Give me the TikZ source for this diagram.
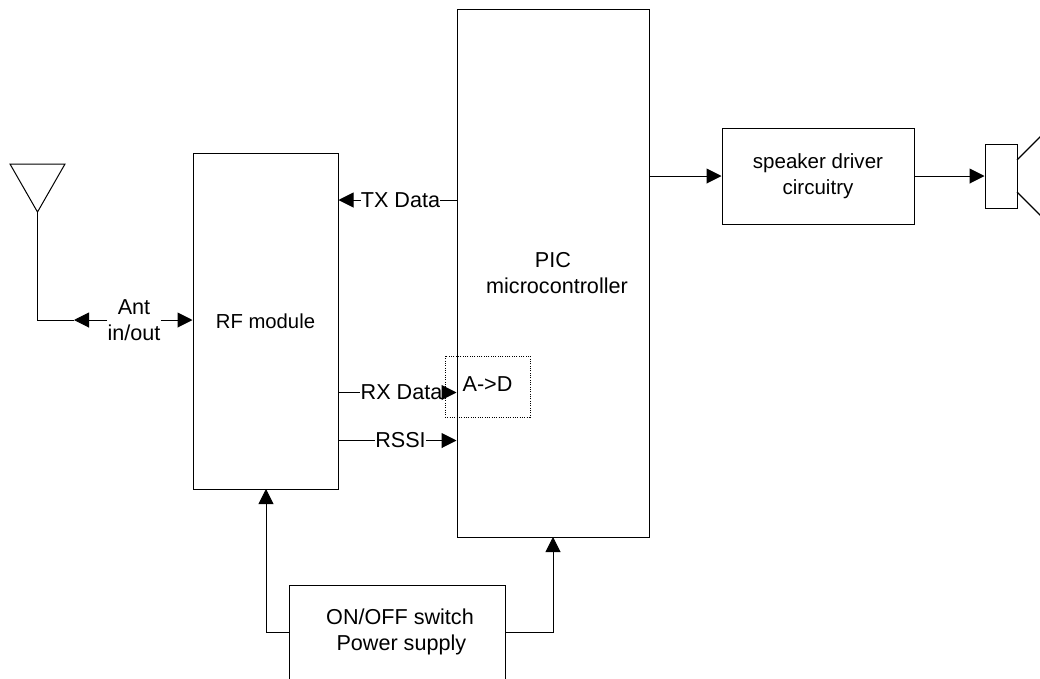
\documentclass[tikz,border=0pt]{standalone}
\usepackage{fontspec}
\setmainfont{Liberation Sans}
\usetikzlibrary{arrows.meta}
\tikzset{
  px/.style={x=0.75pt,y=-0.75pt},
  box/.style={draw,line width=0.75pt,inner sep=0pt,align=center},
  lbl/.style={inner sep=0pt,align=center},
  conn/.style={line width=0.75pt},
  cone/.style={line width=1pt},
  arr/.style={line width=0.75pt,-{Triangle[length=11.25pt,width=11.25pt]}}
}
\begin{document}
\begin{tikzpicture}[px,font=\fontsize{16.2pt}{19.5pt}\selectfont]
\useasboundingbox (0,0) rectangle (1040,679);
\clip (0,0) rectangle (1040,679);
% blocks
\node[box,font=\fontsize{15.2pt}{19.5pt}\selectfont,minimum width={145*0.75pt},minimum height={336*0.75pt}] (rf) at (265.5,321) {RF module};
\node[box,minimum width={192*0.75pt},minimum height={528*0.75pt}] (pic) at (553,273) {PIC\\\hspace{6pt}microcontroller};
\node[box,font=\fontsize{15.4pt}{19.5pt}\selectfont,minimum width={192*0.75pt},minimum height={96*0.75pt}] (drv) at (818,176) {speaker driver\\circuitry};
\node[box,minimum width={32*0.75pt},minimum height={64*0.75pt}] (spk) at (1001,176) {};
\node[box,minimum width={216*0.75pt},minimum height={120*0.75pt}] (pwr) at (397,645) {};
\node[lbl] (pwrtxt) at (400,632) {ON/OFF switch\\\hspace{2pt}Power supply};
\node[box,densely dotted,minimum width={85*0.75pt},minimum height={61*0.75pt}] (ad) at (487.5,386.5) {\raisebox{4pt}{A->D}};
% antenna
\coordinate (a1) at (10,164);
\coordinate (a2) at (65,164);
\coordinate (tip) at (37.5,212);
\draw[conn,line join=miter] (a1) -- (a2) -- (tip) -- cycle;
\coordinate (corner) at (37.5,320);
% labels
\node[lbl] (ant) at (134,320) {Ant\\in/out};
\node[lbl] (tx) at (400.5,200) {TX Data};
\node[lbl] (rx) at (401.5,392.5) {RX Data};
\node[lbl] (rssi) at (400.5,440.5) {RSSI};
\coordinate (antarrow) at (74,320);
% connectors
\draw[conn] (tip) -- (corner) -- (antarrow);
\draw[arr] (ant.west) -- (antarrow);
\draw[arr] (ant.east) -- (ant.east -| rf.west);
\draw[conn] (pic.west |- tx) -- (tx.east);
\draw[arr] (tx.west) -- (tx.west -| rf.east);
\draw[conn] (rf.east |- rx) -- (rx.west);
\draw[arr] (rx.east) -- (rx.east -| pic.west);
\draw[conn] (rf.east |- rssi) -- (rssi.west);
\draw[arr] (rssi.east) -- (rssi.east -| pic.west);
\draw[arr] (pic.east |- drv) -- (drv.west);
\draw[arr] (drv.east) -- (spk.west);
\coordinate (pl) at (289,632);
\coordinate (pr) at (505,632);
\coordinate (rfin) at (266,489);
\coordinate (picin) at (553,537);
\draw[arr] (pl) -| (rfin);
\draw[arr] (pr) -| (picin);
% speaker cone
\coordinate (c1) at (1017,160);
\coordinate (c2) at (1017,192);
\coordinate (c3) at (1041,136);
\coordinate (c4) at (1041,216);
\draw[cone] (c1) -- (c3);
\draw[cone] (c2) -- (c4);
\end{tikzpicture}
\end{document}
